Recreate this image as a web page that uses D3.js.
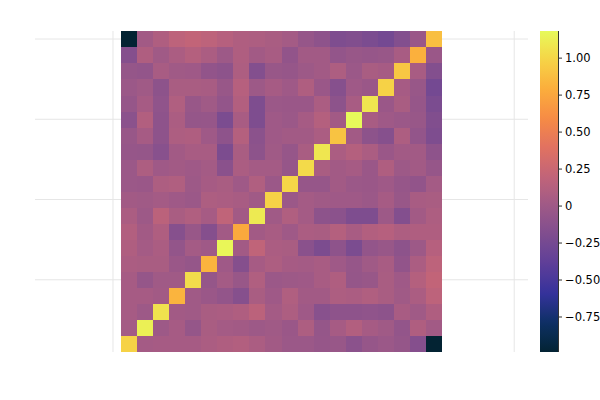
<!DOCTYPE html>
<html>
<head>
<meta charset="utf-8">
<script src="https://cdn.jsdelivr.net/npm/d3@7"></script>
<style>
  html, body { margin: 0; padding: 0; background: #fff; }
  svg { display: block; }
</style>
</head>
<body>
<div id="chart"></div>
<script>
// ---- data ----
const xCats = [1,2,3,4,5,6,7,8,9,10,11,12,13,14,15,16,17,18,19,20];
const yCats = [1,2,3,4,5,6,7,8,9,10,11,12,13,14,15,16,17,18,19,20];
// z[i] = row for y = yCats[i], values for x = xCats
const z = [
  [0.98, 0.03, 0.04, 0.04, 0.04, 0.07, 0.09, 0.11, 0.07, 0.02, -0.02, -0.02, -0.05, -0.04, -0.12, -0.05, -0.02, -0.06, -0.16, -0.99],
  [0.03, 1.13, -0.01, 0.04, -0.06, 0.06, 0.03, 0.02, -0.01, 0.01, -0.03, 0.08, -0.06, 0.04, 0.11, 0.04, 0.01, -0.07, 0.09, 0.02],
  [0.04, -0.01, 1.06, 0.02, 0.01, 0.06, 0.07, 0.09, 0.16, 0.03, 0.08, 0.00, -0.14, -0.10, -0.10, -0.09, -0.11, 0.05, 0.01, 0.09],
  [0.04, 0.04, 0.02, 0.82, 0.01, -0.03, -0.07, -0.15, 0.06, 0.00, 0.10, 0.02, 0.02, 0.08, 0.07, 0.10, 0.06, 0.01, 0.07, 0.17],
  [0.04, -0.06, 0.01, 0.01, 1.03, -0.06, 0.03, -0.04, 0.10, -0.02, -0.01, 0.00, 0.05, 0.09, -0.06, -0.04, 0.06, 0.00, 0.12, 0.20],
  [0.07, 0.06, 0.06, -0.03, -0.06, 0.82, 0.00, -0.16, 0.04, 0.08, 0.04, 0.03, 0.05, 0.00, -0.05, 0.01, 0.05, -0.08, 0.07, 0.17],
  [0.09, 0.03, 0.07, -0.07, 0.03, 0.00, 1.16, 0.02, 0.19, 0.07, 0.06, -0.13, -0.21, -0.10, -0.22, -0.07, -0.04, -0.11, -0.01, 0.13],
  [0.11, 0.02, 0.09, -0.15, -0.04, -0.16, 0.02, 0.76, 0.02, 0.05, 0.00, 0.07, 0.06, 0.12, 0.05, 0.11, 0.13, 0.08, 0.09, 0.09],
  [0.07, -0.01, 0.16, 0.06, 0.10, 0.04, 0.19, 0.02, 1.10, 0.01, 0.10, 0.03, -0.11, -0.12, -0.20, -0.20, -0.01, -0.17, 0.02, 0.08],
  [0.02, 0.01, 0.03, 0.00, -0.02, 0.08, 0.07, 0.05, 0.01, 0.98, -0.02, 0.03, 0.01, 0.00, 0.00, -0.02, 0.04, -0.04, 0.05, 0.06],
  [-0.02, -0.03, 0.08, 0.10, -0.01, 0.04, 0.06, 0.00, 0.10, -0.02, 1.00, -0.05, -0.05, 0.02, -0.02, -0.03, 0.00, -0.05, -0.08, 0.03],
  [-0.02, 0.08, 0.00, 0.02, 0.00, 0.03, -0.13, 0.07, 0.03, 0.03, -0.05, 1.02, 0.06, 0.02, 0.04, -0.03, 0.09, -0.01, 0.02, -0.05],
  [-0.05, -0.06, -0.14, 0.02, 0.05, 0.05, -0.21, 0.06, -0.11, 0.01, -0.05, 0.06, 1.08, 0.07, 0.12, 0.07, -0.03, 0.02, 0.02, -0.10],
  [-0.04, 0.04, -0.10, 0.08, 0.09, 0.00, -0.10, 0.12, -0.12, 0.00, 0.02, 0.02, 0.07, 0.90, 0.02, -0.11, -0.15, 0.08, -0.07, -0.20],
  [-0.12, 0.11, -0.10, 0.07, -0.06, -0.05, -0.22, 0.05, -0.20, 0.00, -0.02, 0.04, 0.12, 0.02, 1.18, 0.05, 0.00, -0.02, -0.04, -0.18],
  [-0.05, 0.04, -0.09, 0.10, -0.04, 0.01, -0.07, 0.11, -0.20, -0.02, -0.03, -0.03, 0.07, -0.11, 0.05, 1.08, -0.03, 0.06, -0.05, -0.22],
  [-0.02, 0.01, -0.11, 0.06, 0.06, 0.05, -0.04, 0.13, -0.01, 0.04, 0.00, 0.09, -0.03, -0.15, 0.00, -0.03, 0.98, 0.04, -0.04, -0.26],
  [-0.06, -0.07, 0.05, 0.01, 0.00, -0.08, -0.11, 0.08, -0.17, -0.04, -0.05, -0.01, 0.02, 0.08, -0.02, 0.06, 0.04, 0.92, 0.05, -0.17],
  [-0.16, 0.09, 0.01, 0.07, 0.12, 0.07, -0.01, 0.09, 0.02, 0.05, -0.08, 0.02, 0.02, -0.07, -0.04, -0.05, -0.04, 0.05, 0.80, -0.03],
  [-0.99, 0.02, 0.09, 0.17, 0.20, 0.17, 0.13, 0.09, 0.08, 0.06, 0.03, -0.05, -0.10, -0.20, -0.18, -0.22, -0.26, -0.17, -0.03, 0.88]
];
const gridXTicks = [0, 5, 10, 15, 20, 25];
const gridYTicks = [5, 10, 15, 20];
const cbarTicks = [-0.75, -0.5, -0.25, 0, 0.25, 0.5, 0.75, 1.0];
const cbarLabels = ["\u22120.75", "\u22120.50", "\u22120.25", "0", "0.25", "0.50", "0.75", "1.00"];
const thermal = ["#032333", "#0d3064", "#35329b", "#5d3e99", "#7e4d8f", "#9e5987",
                 "#c16479", "#e17161", "#f68b45", "#fbad3c", "#f6d346", "#e7fa5a"];

// ---- layout ----
const W = 600, H = 400;
const plot = { left: 35, right: 528, top: 31, bottom: 352 };
const cbar = { left: 540, right: 558 };
const unit = (plot.bottom - plot.top) / 20;
const xMid = (plot.left + plot.right) / 2;
const halfSpan = (plot.right - plot.left) / 2 / unit;

const svg = d3.select("#chart").append("svg").attr("width", W).attr("height", H);

const x = d3.scaleLinear().domain([10.5 - halfSpan, 10.5 + halfSpan]).range([plot.left, plot.right]);
const y = d3.scaleLinear().domain([0.5, 20.5]).range([plot.bottom, plot.top]);

const flat = z.flat();
const ext = d3.extent(flat);
const color = d3.scaleSequential(d3.piecewise(d3.interpolateRgb, thermal)).domain(ext);

// grid
const grid = svg.append("g").attr("stroke", "#e6e6e6").attr("stroke-width", 1);
grid.selectAll("line.gx").data(gridXTicks).join("line")
  .attr("x1", d => x(d)).attr("x2", d => x(d))
  .attr("y1", plot.top).attr("y2", plot.bottom);
grid.selectAll("line.gy").data(gridYTicks).join("line")
  .attr("x1", plot.left).attr("x2", plot.right)
  .attr("y1", d => y(d)).attr("y2", d => y(d));

// heatmap cells
const cells = [];
yCats.forEach((yy, i) => xCats.forEach((xx, j) => cells.push({ x: xx, y: yy, v: z[i][j] })));
svg.append("g").attr("shape-rendering", "crispEdges")
  .selectAll("rect").data(cells).join("rect")
  .attr("x", d => x(d.x - 0.5))
  .attr("y", d => y(d.y + 0.5))
  .attr("width", d => x(d.x + 0.5) - x(d.x - 0.5) + 0.3)
  .attr("height", d => y(d.y - 0.5) - y(d.y + 0.5) + 0.3)
  .attr("fill", d => color(d.v));

// colorbar
const cy = d3.scaleLinear().domain(ext).range([plot.bottom, plot.top]);
const defs = svg.append("defs");
const grad = defs.append("linearGradient").attr("id", "cbgrad")
  .attr("x1", 0).attr("y1", 1).attr("x2", 0).attr("y2", 0);
d3.range(0, 1.0001, 0.02).forEach(t => {
  grad.append("stop").attr("offset", t).attr("stop-color", color(ext[0] + t * (ext[1] - ext[0])));
});
svg.append("rect")
  .attr("x", cbar.left).attr("y", plot.top)
  .attr("width", cbar.right - cbar.left).attr("height", plot.bottom - plot.top)
  .attr("fill", "url(#cbgrad)");

const cAxis = d3.axisRight(cy).tickValues(cbarTicks).tickSize(4).tickPadding(3)
  .tickFormat((d, i) => cbarLabels[i]);
const ag = svg.append("g").attr("transform", `translate(${cbar.right},0)`).call(cAxis);
ag.select(".domain").attr("stroke", "#333").attr("d", `M0.5,${plot.top}V${plot.bottom}`);
ag.selectAll(".tick line").attr("stroke", "#333");
ag.selectAll(".tick text").attr("font-family", "DejaVu Sans, sans-serif")
  .attr("font-size", "11.5px").attr("fill", "#000");
</script>
</body>
</html>
